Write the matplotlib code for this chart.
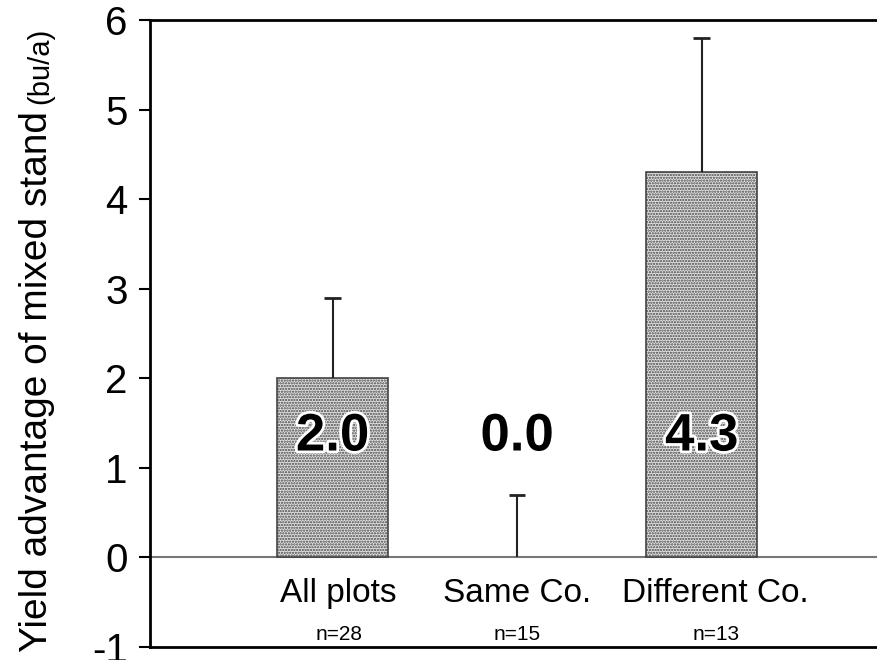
import matplotlib
matplotlib.use("Agg")
import matplotlib.pyplot as plt
import matplotlib.patheffects as pe

categories = ["All plots", "Same Co.", "Different Co."]
sample_sizes = ["n=28", "n=15", "n=13"]
advantage = [2.0, 0.0, 4.3]
upper_error = [0.9, 0.7, 1.5]
value_labels = ["2.0", "0.0", "4.3"]
y_ticks = [-1, 0, 1, 2, 3, 4, 5, 6]

plt.rcParams["font.family"] = ["Liberation Sans", "DejaVu Sans"]
plt.rcParams["axes.unicode_minus"] = False
plt.rcParams["hatch.linewidth"] = 1.1
plt.rcParams["hatch.color"] = "#333333"

fig = plt.figure(figsize=(8.77, 6.6), dpi=100)
ax = fig.add_axes([150 / 877, 13 / 660, 1 - 150 / 877, 627 / 660])

x = list(range(len(categories)))
bars = ax.bar(x, advantage, width=0.6, facecolor="#e2e2e2", edgecolor="#444444",
              linewidth=1.2, hatch="......", zorder=2)
bars[1].set_visible(False)  # zero-height bar leaves no box

tops = [a + e for a, e in zip(advantage, upper_error)]
ax.vlines(x, advantage, tops, color="#222222", linewidth=1.5, zorder=3)
ax.hlines(tops, [xi - 0.045 for xi in x], [xi + 0.045 for xi in x],
          color="#222222", linewidth=2, zorder=3)
ax.axhline(0, color="#777777", linewidth=1.5, zorder=1)

label_shift = [6, 0, 14]  # px, labels sit a little right of the bars
for xi, cat, n, val, sh in zip(x, categories, sample_sizes, value_labels, label_shift):
    ax.annotate(cat, (xi, -0.40), xytext=(sh * 0.72, 0), textcoords="offset points",
                ha="center", va="center", fontsize=24)
    ax.annotate(n, (xi, -0.86), xytext=(sh * 0.72, 0), textcoords="offset points",
                ha="center", va="center", fontsize=15)
    ax.text(xi, 1.35, val, ha="center", va="center", fontsize=38,
            fontweight="bold", zorder=4,
            path_effects=[pe.withStroke(linewidth=4, foreground="white")])

ax.set_xlim(-0.99, 2.95)
ax.set_ylim(-1, 6)
ax.set_yticks(y_ticks)
ax.set_xticks([])
ax.tick_params(axis="y", direction="out", length=8, width=1.5, labelsize=29, pad=8)
for side in ["left", "top", "bottom"]:
    ax.spines[side].set_linewidth(2)
ax.spines["right"].set_visible(False)

ylab = fig.text(37 / 877, 1 - 652 / 660, "Yield advantage of mixed stand",
                rotation=90, ha="center", va="bottom", fontsize=28)
ax.annotate("(bu/a)", xy=(0.5, 1.0), xycoords=ylab, xytext=(2, 5),
            textcoords="offset points", rotation=90, ha="center", va="bottom",
            fontsize=21, annotation_clip=False)

fig.savefig("out.png", dpi=100)
